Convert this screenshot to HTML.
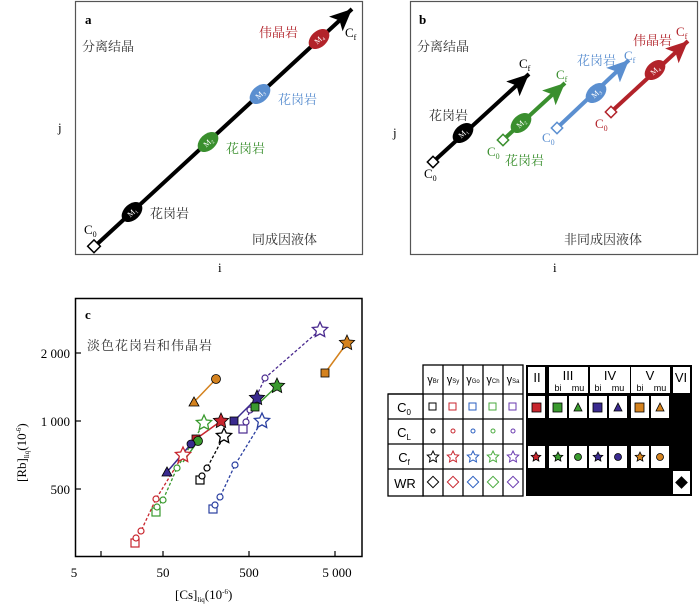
<!DOCTYPE html>
<html><head><meta charset="utf-8"><style>
body{margin:0;background:#fff;}
svg{display:block;font-family:"Liberation Serif","Noto Serif CJK SC",serif;}
.cn{font-family:"Liberation Serif","Noto Serif CJK SC",serif;font-size:13px;}
.tb{font-family:"Liberation Sans",sans-serif;}
</style></head><body>
<svg width="700" height="609" viewBox="0 0 700 609" xmlns="http://www.w3.org/2000/svg">
<defs>
<marker id="hk" markerUnits="userSpaceOnUse" markerWidth="26" markerHeight="24" refX="22" refY="10" orient="auto"><path d="M0,0 L22,10 L0,20 L5,10Z" fill="#000"/></marker>
<marker id="hg" markerUnits="userSpaceOnUse" markerWidth="26" markerHeight="24" refX="22" refY="10" orient="auto"><path d="M0,0 L22,10 L0,20 L5,10Z" fill="#3a8f2e"/></marker>
<marker id="hb" markerUnits="userSpaceOnUse" markerWidth="26" markerHeight="24" refX="22" refY="10" orient="auto"><path d="M0,0 L22,10 L0,20 L5,10Z" fill="#5b8fd0"/></marker>
<marker id="hr" markerUnits="userSpaceOnUse" markerWidth="26" markerHeight="24" refX="22" refY="10" orient="auto"><path d="M0,0 L22,10 L0,20 L5,10Z" fill="#b2232a"/></marker>
</defs>

<!-- Panel a -->
<rect x="75.5" y="1.5" width="287" height="253" fill="none" stroke="#555" stroke-width="1.2"/>
<text x="85" y="24" font-weight="bold" font-size="13">a</text>
<text x="82" y="51" class="cn" fill="#333">分离结晶</text>
<line x1="94" y1="247" x2="352" y2="9" stroke="#000" stroke-width="4" marker-end="url(#hk)"/>
<rect x="89" y="242" width="9" height="9" fill="#fff" stroke="#000" stroke-width="1.5" transform="rotate(45 94 247)"/>
<g transform="translate(132 212) rotate(-43)"><ellipse rx="12" ry="8" fill="#000"/><text x="-5" y="3" fill="#fff" font-size="8">M₁</text></g>
<g transform="translate(208 142) rotate(-43)"><ellipse rx="12" ry="8" fill="#3a8f2e"/><text x="-5" y="3" fill="#fff" font-size="8">M₂</text></g>
<g transform="translate(260 94) rotate(-43)"><ellipse rx="12" ry="8" fill="#5b8fd0"/><text x="-5" y="3" fill="#fff" font-size="8">M₃</text></g>
<g transform="translate(319 39) rotate(-43)"><ellipse rx="12" ry="8" fill="#b2232a"/><text x="-5" y="3" fill="#fff" font-size="8">M₄</text></g>
<text x="150" y="218" class="cn" fill="#333">花岗岩</text>
<text x="226" y="153" class="cn" fill="#3a8f2e">花岗岩</text>
<text x="278" y="104" class="cn" fill="#5b8fd0">花岗岩</text>
<text x="259" y="37" class="cn" fill="#b2232a">伟晶岩</text>
<text x="84" y="234" font-size="13">C<tspan font-size="8" dy="3">0</tspan></text>
<text x="345" y="37" font-size="13">C<tspan font-size="8" dy="3">f</tspan></text>
<text x="252" y="244" class="cn" fill="#333">同成因液体</text>
<text x="58" y="132" font-size="13">j</text>
<text x="218" y="272" font-size="13">i</text>

<!-- Panel b -->
<rect x="410.5" y="1.5" width="287" height="253" fill="none" stroke="#555" stroke-width="1.2"/>
<text x="419" y="24" font-weight="bold" font-size="13">b</text>
<text x="417" y="51" class="cn" fill="#333">分离结晶</text>
<line x1="433" y1="162" x2="529" y2="74" stroke="#000" stroke-width="4" marker-end="url(#hk)"/>
<line x1="503" y1="140" x2="565" y2="83" stroke="#3a8f2e" stroke-width="4" marker-end="url(#hg)"/>
<line x1="557" y1="128" x2="629" y2="60" stroke="#5b8fd0" stroke-width="4" marker-end="url(#hb)"/>
<line x1="611" y1="112" x2="688" y2="41" stroke="#b2232a" stroke-width="4" marker-end="url(#hr)"/>
<rect x="429" y="158" width="8" height="8" fill="#fff" stroke="#000" stroke-width="1.5" transform="rotate(45 433 162)"/>
<rect x="499" y="136" width="8" height="8" fill="#fff" stroke="#3a8f2e" stroke-width="1.5" transform="rotate(45 503 140)"/>
<rect x="553" y="124" width="8" height="8" fill="#fff" stroke="#5b8fd0" stroke-width="1.5" transform="rotate(45 557 128)"/>
<rect x="607" y="108" width="8" height="8" fill="#fff" stroke="#b2232a" stroke-width="1.5" transform="rotate(45 611 112)"/>
<g transform="translate(463 133) rotate(-43)"><ellipse rx="12" ry="8" fill="#000"/><text x="-5" y="3" fill="#fff" font-size="8">M₁</text></g>
<g transform="translate(521 123) rotate(-43)"><ellipse rx="12" ry="8" fill="#3a8f2e"/><text x="-5" y="3" fill="#fff" font-size="8">M₂</text></g>
<g transform="translate(596 93) rotate(-43)"><ellipse rx="12" ry="8" fill="#5b8fd0"/><text x="-5" y="3" fill="#fff" font-size="8">M₃</text></g>
<g transform="translate(655 70) rotate(-43)"><ellipse rx="12" ry="8" fill="#b2232a"/><text x="-5" y="3" fill="#fff" font-size="8">M₄</text></g>
<text x="429" y="120" class="cn" fill="#333">花岗岩</text>
<text x="505" y="165" class="cn" fill="#3a8f2e">花岗岩</text>
<text x="577" y="65" class="cn" fill="#5b8fd0">花岗岩</text>
<text x="633" y="45" class="cn" fill="#b2232a">伟晶岩</text>
<text x="424" y="178" font-size="13">C<tspan font-size="8" dy="3">0</tspan></text>
<text x="487" y="156" font-size="13" fill="#3a8f2e">C<tspan font-size="8" dy="3">0</tspan></text>
<text x="542" y="142" font-size="13" fill="#5b8fd0">C<tspan font-size="8" dy="3">0</tspan></text>
<text x="595" y="128" font-size="13" fill="#b2232a">C<tspan font-size="8" dy="3">0</tspan></text>
<text x="519" y="68" font-size="13">C<tspan font-size="8" dy="3">f</tspan></text>
<text x="556" y="79" font-size="13" fill="#3a8f2e">C<tspan font-size="8" dy="3">f</tspan></text>
<text x="624" y="60" font-size="13" fill="#5b8fd0">C<tspan font-size="8" dy="3">f</tspan></text>
<text x="676" y="36" font-size="13" fill="#b2232a">C<tspan font-size="8" dy="3">f</tspan></text>
<text x="564" y="244" class="cn" fill="#333">非同成因液体</text>
<text x="393" y="137" font-size="13">j</text>
<text x="553" y="272" font-size="13">i</text>

<!-- Panel c -->
<rect x="75.5" y="298.5" width="286.5" height="258" fill="none" stroke="#000" stroke-width="1.5"/>
<g stroke="#000" stroke-width="1.2">
<line x1="101" y1="557" x2="101" y2="551"/><line x1="163" y1="557" x2="163" y2="551"/>
<line x1="249" y1="557" x2="249" y2="551"/><line x1="335" y1="557" x2="335" y2="551"/>
<line x1="75" y1="353" x2="81" y2="353"/><line x1="75" y1="421" x2="81" y2="421"/><line x1="75" y1="489" x2="81" y2="489"/>
</g>
<g font-size="13" text-anchor="middle">
<text x="74" y="577">5</text><text x="163" y="577">50</text><text x="249" y="577">500</text><text x="337" y="577">5 000</text>
</g>
<g font-size="13" text-anchor="end">
<text x="70" y="358">2 000</text><text x="70" y="426">1 000</text><text x="70" y="494">500</text>
</g>
<text x="175" y="599" font-size="13">[Cs]<tspan font-size="7" dy="3">liq</tspan><tspan dy="-3">(10</tspan><tspan font-size="7" dy="-5">-6</tspan><tspan dy="5">)</tspan></text>
<text transform="translate(26 482) rotate(-90)" font-size="13">[Rb]<tspan font-size="7" dy="3">liq</tspan><tspan dy="-3">(10</tspan><tspan font-size="7" dy="-5">-6</tspan><tspan dy="5">)</tspan></text>
<text x="85" y="319" font-weight="bold" font-size="13">c</text>
<text x="87" y="350" class="cn" fill="#333" letter-spacing="1">淡色花岗岩和伟晶岩</text>

<!-- dashed series -->
<g fill="none" stroke-width="1.3" stroke-dasharray="3,2">
<polyline points="200,480 202,476 207,468 224,436" stroke="#000"/>
<polyline points="135,543 136,538 141,531 156,499 183,455" stroke="#c8262e"/>
<polyline points="156,512 157,507 163,500 177,468 204,423" stroke="#3a9a2e"/>
<polyline points="243,429 246,422 250,410 265,378 320,330" stroke="#4a2a8f"/>
<polyline points="213,509 215,505 220,497 235,465 262,421" stroke="#2a3fa0"/>
</g>
<!-- solid series -->
<g stroke-width="1.5">
<line x1="196" y1="439" x2="221" y2="421" stroke="#c8262e"/>
<line x1="167" y1="472" x2="191" y2="444" stroke="#3a2a8f"/>
<line x1="183" y1="462" x2="198" y2="441" stroke="#3a9a2e"/>
<line x1="255" y1="407" x2="277" y2="386" stroke="#3a9a2e"/>
<line x1="234" y1="421" x2="257" y2="398" stroke="#3a2a8f"/>
<line x1="194" y1="402" x2="216" y2="379" stroke="#d4821e"/>
<line x1="325" y1="373" x2="347" y2="343" stroke="#d4821e"/>
</g>
<!-- open markers -->
<g fill="#fff" stroke-width="1.2">
<rect x="196" y="476" width="8" height="8" stroke="#000"/>
<circle cx="202" cy="476" r="3" stroke="#000"/><circle cx="207" cy="468" r="3" stroke="#000"/>
<rect x="131" y="539" width="8" height="8" stroke="#c8262e"/>
<circle cx="136" cy="538" r="3" stroke="#c8262e"/><circle cx="141" cy="531" r="3" stroke="#c8262e"/><circle cx="156" cy="499" r="3" stroke="#c8262e"/>
<rect x="152" y="508" width="8" height="8" stroke="#3a9a2e"/>
<circle cx="157" cy="507" r="3" stroke="#3a9a2e"/><circle cx="163" cy="500" r="3" stroke="#3a9a2e"/><circle cx="177" cy="468" r="3" stroke="#3a9a2e"/>
<rect x="239" y="425" width="8" height="8" stroke="#4a2a8f"/>
<circle cx="246" cy="422" r="3" stroke="#4a2a8f"/><circle cx="250" cy="410" r="3" stroke="#4a2a8f"/><circle cx="265" cy="378" r="3" stroke="#4a2a8f"/>
<rect x="209" y="505" width="8" height="8" stroke="#2a3fa0"/>
<circle cx="215" cy="505" r="3" stroke="#2a3fa0"/><circle cx="220" cy="497" r="3" stroke="#2a3fa0"/><circle cx="235" cy="465" r="3" stroke="#2a3fa0"/>
</g>
<!-- stars -->
<g stroke-width="1.3">
<path id="st" d="M0,-8 L2.3,-3 L7.6,-2.5 L3.7,1.2 L4.7,6.5 L0,3.9 L-4.7,6.5 L-3.7,1.2 L-7.6,-2.5 L-2.3,-3Z" transform="translate(224 436)" fill="#fff" stroke="#000"/>
<path d="M0,-8 L2.3,-3 L7.6,-2.5 L3.7,1.2 L4.7,6.5 L0,3.9 L-4.7,6.5 L-3.7,1.2 L-7.6,-2.5 L-2.3,-3Z" transform="translate(183 455)" fill="#fff" stroke="#c8262e"/>
<path d="M0,-8 L2.3,-3 L7.6,-2.5 L3.7,1.2 L4.7,6.5 L0,3.9 L-4.7,6.5 L-3.7,1.2 L-7.6,-2.5 L-2.3,-3Z" transform="translate(204 423)" fill="#fff" stroke="#3a9a2e"/>
<path d="M0,-8 L2.3,-3 L7.6,-2.5 L3.7,1.2 L4.7,6.5 L0,3.9 L-4.7,6.5 L-3.7,1.2 L-7.6,-2.5 L-2.3,-3Z" transform="translate(320 330)" fill="#fff" stroke="#4a2a8f"/>
<path d="M0,-8 L2.3,-3 L7.6,-2.5 L3.7,1.2 L4.7,6.5 L0,3.9 L-4.7,6.5 L-3.7,1.2 L-7.6,-2.5 L-2.3,-3Z" transform="translate(262 421)" fill="#fff" stroke="#2a3fa0"/>
<path d="M0,-8 L2.3,-3 L7.6,-2.5 L3.7,1.2 L4.7,6.5 L0,3.9 L-4.7,6.5 L-3.7,1.2 L-7.6,-2.5 L-2.3,-3Z" transform="translate(221 421)" fill="#c8262e" stroke="#000" stroke-width="0.8"/>
<path d="M0,-8 L2.3,-3 L7.6,-2.5 L3.7,1.2 L4.7,6.5 L0,3.9 L-4.7,6.5 L-3.7,1.2 L-7.6,-2.5 L-2.3,-3Z" transform="translate(277 386)" fill="#3a9a2e" stroke="#000" stroke-width="0.8"/>
<path d="M0,-8 L2.3,-3 L7.6,-2.5 L3.7,1.2 L4.7,6.5 L0,3.9 L-4.7,6.5 L-3.7,1.2 L-7.6,-2.5 L-2.3,-3Z" transform="translate(257 398)" fill="#3a2a8f" stroke="#000" stroke-width="0.8"/>
<path d="M0,-8 L2.3,-3 L7.6,-2.5 L3.7,1.2 L4.7,6.5 L0,3.9 L-4.7,6.5 L-3.7,1.2 L-7.6,-2.5 L-2.3,-3Z" transform="translate(347 343)" fill="#d4821e" stroke="#000" stroke-width="0.8"/>
</g>
<!-- filled markers -->
<g stroke="#000" stroke-width="0.8">
<rect x="192" y="435" width="8" height="8" fill="#c8262e"/>
<circle cx="198" cy="441" r="4.5" fill="#3a9a2e"/>
<circle cx="191" cy="444" r="4" fill="#3a2a8f"/>
<path d="M167,467 L172,476 L162,476Z" fill="#3a2a8f"/>
<rect x="251" y="403" width="8" height="8" fill="#3a9a2e"/>
<rect x="230" y="417" width="8" height="8" fill="#3a2a8f"/>
<path d="M194,397 L199,406 L189,406Z" fill="#d4821e"/>
<circle cx="216" cy="379" r="4.5" fill="#d4821e"/>
<rect x="321" y="369" width="8" height="8" fill="#d4821e"/>
</g>

<!-- Table -->
<g class="tb">
<rect x="388" y="365" width="304" height="131" fill="#fff"/>
<!-- left block -->
<g fill="#fff" stroke="#000" stroke-width="1.3">
<rect x="423" y="365" width="100" height="131"/>
<rect x="388" y="394" width="35" height="102"/>
<line x1="388" y1="394" x2="523" y2="394"/><line x1="388" y1="419" x2="523" y2="419"/><line x1="388" y1="444" x2="523" y2="444"/><line x1="388" y1="469" x2="523" y2="469"/>
<line x1="443" y1="365" x2="443" y2="496"/><line x1="463" y1="365" x2="463" y2="496"/><line x1="483" y1="365" x2="483" y2="496"/><line x1="503" y1="365" x2="503" y2="496"/>
</g>
<g font-size="11" text-anchor="middle">
<text x="433" y="383">γ<tspan font-size="6">Br</tspan></text><text x="453" y="383">γ<tspan font-size="6">Sy</tspan></text><text x="473" y="383">γ<tspan font-size="6">Go</tspan></text><text x="493" y="383">γ<tspan font-size="6">Ch</tspan></text><text x="513" y="383">γ<tspan font-size="6">Sa</tspan></text>
<text x="404" y="412" font-size="13">C<tspan font-size="8" dy="3">0</tspan></text>
<text x="404" y="437" font-size="13">C<tspan font-size="8" dy="3">L</tspan></text>
<text x="404" y="462" font-size="13">C<tspan font-size="8" dy="3">f</tspan></text>
<text x="405" y="488" font-size="13">WR</text>
</g>
<g fill="#fff" stroke-width="1">
<rect x="429" y="403" width="7" height="7" stroke="#000"/><rect x="449" y="403" width="7" height="7" stroke="#c8262e"/><rect x="469" y="403" width="7" height="7" stroke="#2a5fc0"/><rect x="489" y="403" width="7" height="7" stroke="#4aaa3e"/><rect x="509" y="403" width="7" height="7" stroke="#6a3aaf"/>
<circle cx="433" cy="431" r="2" stroke="#000"/><circle cx="453" cy="431" r="2" stroke="#c8262e"/><circle cx="473" cy="431" r="2" stroke="#2a5fc0"/><circle cx="493" cy="431" r="2" stroke="#4aaa3e"/><circle cx="513" cy="431" r="2" stroke="#6a3aaf"/>
<path d="M0,-6 L1.8,-2.3 L5.7,-1.9 L2.8,0.9 L3.5,4.9 L0,2.9 L-3.5,4.9 L-2.8,0.9 L-5.7,-1.9 L-1.8,-2.3Z" transform="translate(433 457)" stroke="#000"/>
<path d="M0,-6 L1.8,-2.3 L5.7,-1.9 L2.8,0.9 L3.5,4.9 L0,2.9 L-3.5,4.9 L-2.8,0.9 L-5.7,-1.9 L-1.8,-2.3Z" transform="translate(453 457)" stroke="#c8262e"/>
<path d="M0,-6 L1.8,-2.3 L5.7,-1.9 L2.8,0.9 L3.5,4.9 L0,2.9 L-3.5,4.9 L-2.8,0.9 L-5.7,-1.9 L-1.8,-2.3Z" transform="translate(473 457)" stroke="#2a5fc0"/>
<path d="M0,-6 L1.8,-2.3 L5.7,-1.9 L2.8,0.9 L3.5,4.9 L0,2.9 L-3.5,4.9 L-2.8,0.9 L-5.7,-1.9 L-1.8,-2.3Z" transform="translate(493 457)" stroke="#4aaa3e"/>
<path d="M0,-6 L1.8,-2.3 L5.7,-1.9 L2.8,0.9 L3.5,4.9 L0,2.9 L-3.5,4.9 L-2.8,0.9 L-5.7,-1.9 L-1.8,-2.3Z" transform="translate(513 457)" stroke="#6a3aaf"/>
<rect x="429" y="478" width="8" height="8" stroke="#000" transform="rotate(45 433 482)"/><rect x="449" y="478" width="8" height="8" stroke="#c8262e" transform="rotate(45 453 482)"/><rect x="469" y="478" width="8" height="8" stroke="#2a5fc0" transform="rotate(45 473 482)"/><rect x="489" y="478" width="8" height="8" stroke="#4aaa3e" transform="rotate(45 493 482)"/><rect x="509" y="478" width="8" height="8" stroke="#6a3aaf" transform="rotate(45 513 482)"/>
</g>
<!-- right block -->
<rect x="526" y="365" width="166" height="131" fill="#000"/>
<g fill="#fff">
<rect x="528" y="367" width="17" height="26"/><rect x="549" y="367" width="81" height="26"/><rect x="632" y="367" width="0" height="0"/>
<rect x="592" y="367" width="0" height="0"/>
<rect x="631" y="367" width="39" height="26"/><rect x="673" y="367" width="17" height="26"/>
<rect x="528" y="396" width="17" height="22"/><rect x="549" y="396" width="18" height="22"/><rect x="569" y="396" width="18" height="22"/><rect x="589" y="396" width="18" height="22"/><rect x="609" y="396" width="18" height="22"/><rect x="631" y="396" width="18" height="22"/><rect x="651" y="396" width="18" height="22"/>
<rect x="528" y="446" width="17" height="22"/><rect x="549" y="446" width="18" height="22"/><rect x="569" y="446" width="18" height="22"/><rect x="589" y="446" width="18" height="22"/><rect x="609" y="446" width="18" height="22"/><rect x="631" y="446" width="18" height="22"/><rect x="651" y="446" width="18" height="22"/>
<rect x="673" y="471" width="17" height="23"/>
</g>
<line x1="589" y1="367" x2="589" y2="393" stroke="#000" stroke-width="2"/>
<g font-size="13" text-anchor="middle">
<text x="537" y="382">II</text><text x="568" y="380">III</text><text x="610" y="380">IV</text><text x="650" y="380">V</text><text x="681" y="382">VI</text>
</g>
<g font-size="9" text-anchor="middle">
<text x="558" y="391">bi</text><text x="578" y="391">mu</text><text x="598" y="391">bi</text><text x="618" y="391">mu</text><text x="640" y="391">bi</text><text x="660" y="391">mu</text>
</g>
<g stroke="#000" stroke-width="0.8">
<rect x="532" y="403" width="9" height="9" fill="#c8262e"/><rect x="553" y="403" width="9" height="9" fill="#3a9a2e"/>
<path d="M578,403 L582,411 L574,411Z" fill="#3a9a2e"/>
<rect x="593" y="403" width="9" height="9" fill="#3a2a8f"/>
<path d="M618,403 L622,411 L614,411Z" fill="#3a2a8f"/>
<rect x="635" y="403" width="9" height="9" fill="#d4821e"/>
<path d="M660,403 L664,411 L656,411Z" fill="#d4821e"/>
<path d="M0,-5 L1.5,-1.9 L4.8,-1.6 L2.3,0.8 L2.9,4.1 L0,2.4 L-2.9,4.1 L-2.3,0.8 L-4.8,-1.6 L-1.5,-1.9Z" transform="translate(536 457)" fill="#c8262e"/>
<path d="M0,-5 L1.5,-1.9 L4.8,-1.6 L2.3,0.8 L2.9,4.1 L0,2.4 L-2.9,4.1 L-2.3,0.8 L-4.8,-1.6 L-1.5,-1.9Z" transform="translate(558 457)" fill="#3a9a2e"/>
<circle cx="578" cy="457" r="3.5" fill="#3a9a2e"/>
<path d="M0,-5 L1.5,-1.9 L4.8,-1.6 L2.3,0.8 L2.9,4.1 L0,2.4 L-2.9,4.1 L-2.3,0.8 L-4.8,-1.6 L-1.5,-1.9Z" transform="translate(598 457)" fill="#3a2a8f"/>
<circle cx="618" cy="457" r="3.5" fill="#3a2a8f"/>
<path d="M0,-5 L1.5,-1.9 L4.8,-1.6 L2.3,0.8 L2.9,4.1 L0,2.4 L-2.9,4.1 L-2.3,0.8 L-4.8,-1.6 L-1.5,-1.9Z" transform="translate(640 457)" fill="#d4821e"/>
<circle cx="660" cy="457" r="3.5" fill="#d4821e"/>
</g>
<rect x="677" y="478" width="9" height="9" fill="#000" transform="rotate(45 681.5 482.5)"/>
</g>
</svg>
</body></html>
